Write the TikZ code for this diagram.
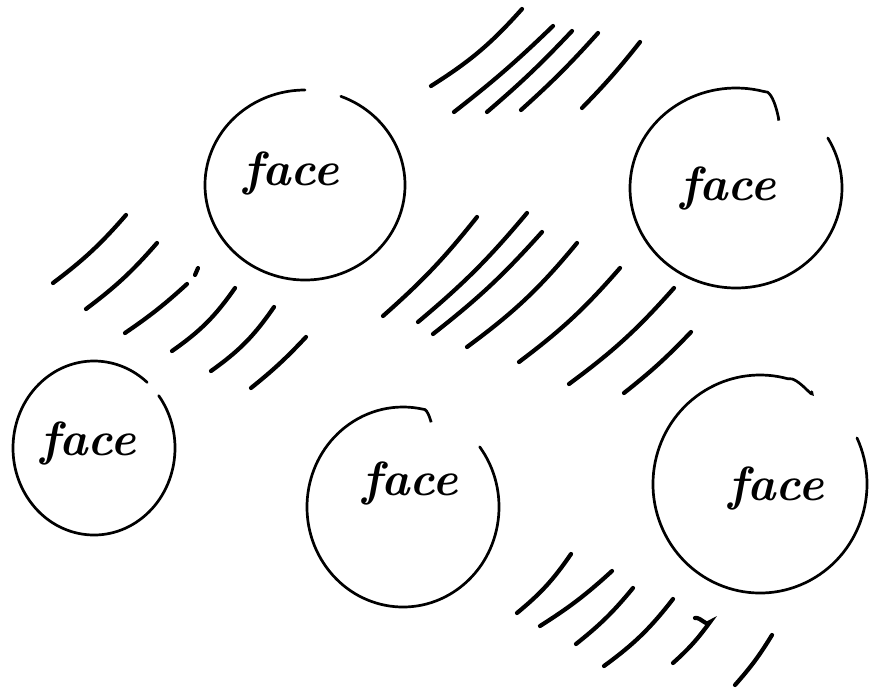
\documentclass[tikz,border=0pt]{standalone}
\usetikzlibrary{positioning}

\begin{document}
\begin{tikzpicture}[x=1pt, y=-1pt, ring/.style={line width=2.7pt, line cap=round}, hatch/.style={line width=4.2pt, line cap=round}, word/.style={font=\fontsize{48}{54}\selectfont\bfseries\itshape, anchor=base, inner sep=0pt}]
\useasboundingbox[fill=white] (0,0) rectangle (870,691);
% the five faces
\draw[ring] ([shift={(-69:100 and 95)}]305,185) arc[start angle=-69, end angle=270, x radius=100, y radius=95];
\draw[ring] ([shift={(-30:106 and 100)}]736,188) arc[start angle=-30, end angle=285, x radius=106, y radius=100] to[out=15, in=-80] ++(15,27);
\draw[ring] ([shift={(-37:81 and 87)}]94,448) arc[start angle=-37, end angle=311, x radius=81, y radius=87];
\draw[ring] ([shift={(-37:96 and 100)}]403,507) arc[start angle=-37, end angle=282, x radius=96, y radius=100] to[out=13, in=-80] ++(8,12);
\draw[ring] ([shift={(-25:107 and 109)}]760,484) arc[start angle=-25, end angle=285, x radius=107, y radius=109] to[out=15, in=-70] ++(24,13);
\node[word] (faceA) at (291,185) {face};
\node[word] (faceB) at (728,200) {face};
\node[word] (faceC) at (88,455) {face};
\node[word] (faceD) at (410,495) {face};
\node[word] (faceE) at (776,500) {face};
% left hatching
\draw[hatch] (53,283) to[bend right=6] (126,215);
\draw[hatch] (86,309) to[bend right=6] (157,243);
\draw[hatch] (125,333) to[bend right=4] (187,284);
\draw[hatch] (195,275) -- (198,268);
\draw[hatch] (172,351) to[bend right=10] (235,288);
\draw[hatch] (211,371) to[bend right=10] (274,307);
\draw[hatch] (251,388) to[bend right=4] (306,337);
% top hatching
\draw[hatch] (431,86) to[bend right=8] (522,9);
\draw[hatch] (454,112) to[bend right=3] (553,26);
\draw[hatch] (487,112) to[bend right=3] (572,31);
\draw[hatch] (521,110) to[bend right=3] (598,33);
\draw[hatch] (582,108) to[bend right=3] (640,42);
% middle hatching
\draw[hatch] (383,316) to[bend right=5] (477,217);
\draw[hatch] (418,322) to[bend right=5] (527,213);
\draw[hatch] (433,334) to[bend right=5] (542,232);
\draw[hatch] (467,347) to[bend right=7] (577,243);
\draw[hatch] (519,362) to[bend right=6] (620,268);
\draw[hatch] (569,384) to[bend right=6] (674,288);
\draw[hatch] (624,393) to[bend right=4] (691,332);
% bottom hatching
\draw[hatch] (517,613) to[bend right=8] (571,554);
\draw[hatch] (540,626) to[bend right=5] (612,571);
\draw[hatch] (576,644) to[bend right=6] (633,588);
\draw[hatch] (604,666) to[bend right=8] (673,599);
\draw[hatch] (673,663) to[bend right=6] (710,622) to[out=-120, in=10] (695,618);
\draw[hatch] (735,685) to[bend right=5] (772,635);
\end{tikzpicture}
\end{document}
